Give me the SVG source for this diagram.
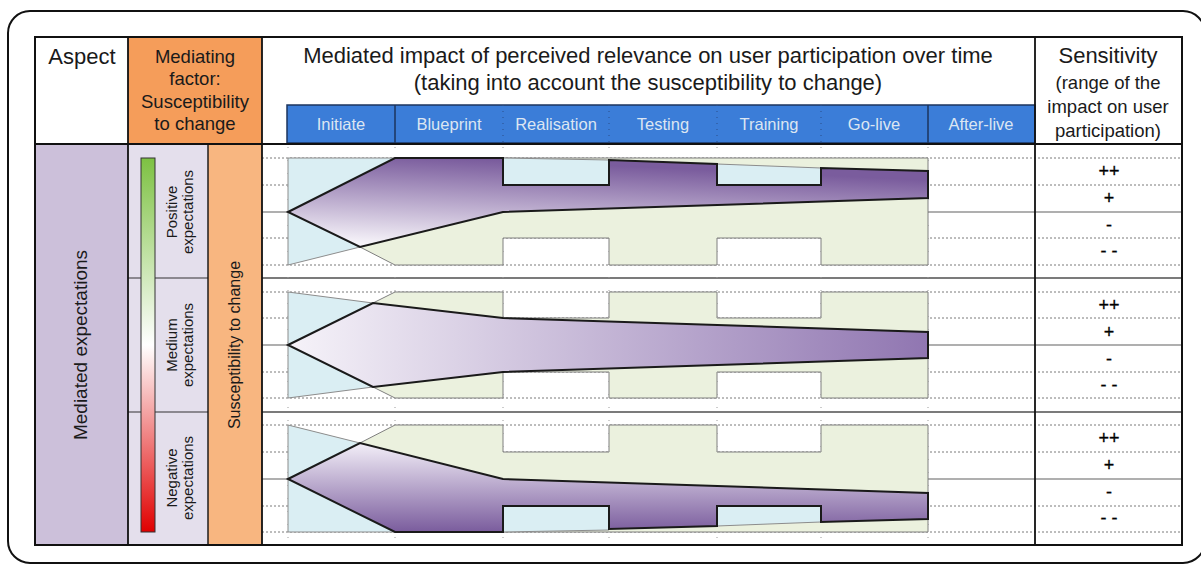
<svg xmlns="http://www.w3.org/2000/svg" width="1201" height="566" viewBox="0 0 1201 566">
<style>
text{font-family:"Liberation Sans",Arial,sans-serif;fill:#1a1a1a}
.hd{font-size:22px;text-anchor:middle}
.mf{font-size:18.5px;text-anchor:middle}
.ph{font-size:16.5px;text-anchor:middle;fill:#dce6f2}
.sv{font-size:18px;text-anchor:middle;fill:#000;stroke:#000;stroke-width:0.3}
.rl{font-size:15px;text-anchor:middle}
.dot{stroke:#7a7a7a;stroke-width:1;stroke-dasharray:2 2;fill:none}
.ctr{stroke:#606060;stroke-width:1.2;fill:none}
.sep{stroke:#505050;stroke-width:1.6;fill:none}
.vdot{stroke:#9a9a9a;stroke-width:1;stroke-dasharray:1 12;fill:none}
.lb{fill:#daeef3;stroke:#8c8c8c;stroke-width:1}
.gr{fill:#ebf1de;stroke:#7f7f7f;stroke-width:1}
.pu{stroke:#1a1a1a;stroke-width:2;stroke-linejoin:miter}
.bd{stroke:#111;fill:none}
</style>
<defs>
<linearGradient id="g1" x1="0.1" y1="0.95" x2="0.4" y2="0.05">
<stop offset="0" stop-color="#f6f3f9"/><stop offset="1" stop-color="#7a5c9d"/>
</linearGradient>
<linearGradient id="g2" x1="0" y1="0" x2="1" y2="0">
<stop offset="0" stop-color="#f6f3f9"/><stop offset="1" stop-color="#9076b1"/>
</linearGradient>
<linearGradient id="g3" x1="0" y1="0" x2="0" y2="1">
<stop offset="0" stop-color="#f3eff8"/><stop offset="1" stop-color="#7a5c9d"/>
</linearGradient>
<linearGradient id="bar" x1="0" y1="0" x2="0" y2="1">
<stop offset="0" stop-color="#7dc142"/><stop offset="0.5" stop-color="#ffffff"/><stop offset="1" stop-color="#e00000"/>
</linearGradient>
</defs>

<rect x="8" y="11" width="1197" height="552" rx="22" fill="#fff" stroke="#111" stroke-width="2"/>

<g id="left-columns">
<rect x="35" y="144" width="93" height="401" fill="#ccc0da"/>
<rect x="128" y="144" width="80" height="401" fill="#e4dfec"/>
<rect x="208" y="144" width="54" height="401" fill="#f8b680"/>
<rect x="128" y="37" width="134" height="107" fill="#f59d5a"/>
<line x1="128" y1="278" x2="208" y2="278" stroke="#333" stroke-width="1.2"/>
<line x1="128" y1="412" x2="208" y2="412" stroke="#333" stroke-width="1.2"/>
<rect x="141" y="158" width="14" height="374" fill="url(#bar)" stroke="#333" stroke-width="1"/>
</g>

<g id="header">
<text class="hd" x="82" y="64">Aspect</text>
<text class="mf" x="195" y="63">Mediating</text>
<text class="mf" x="195" y="85">factor:</text>
<text class="mf" x="195" y="108">Susceptibility</text>
<text class="mf" x="195" y="130">to change</text>
<text class="hd" x="648" y="63">Mediated impact of perceived relevance on user participation over time</text>
<text class="hd" x="648" y="90">(taking into account the susceptibility to change)</text>
<text class="hd" x="1108" y="63">Sensitivity</text>
<text class="mf" x="1108" y="89">(range of the</text>
<text class="mf" x="1108" y="113">impact on user</text>
<text class="mf" x="1108" y="137">participation)</text>
</g>

<g id="phases">
<rect x="287" y="105" width="748" height="38" fill="#3b7dd8" stroke="#1c355e" stroke-width="1.5"/>
<line x1="395" y1="105" x2="395" y2="143" stroke="#1c355e" stroke-width="1.5"/>
<line x1="928" y1="105" x2="928" y2="143" stroke="#1c355e" stroke-width="1.5"/>
<g stroke="#2a4f8a" stroke-width="1" stroke-dasharray="1 5">
<line x1="503" y1="105" x2="503" y2="143"/><line x1="609" y1="105" x2="609" y2="143"/>
<line x1="717" y1="105" x2="717" y2="143"/><line x1="821" y1="105" x2="821" y2="143"/>
</g>
<text class="ph" x="341" y="130">Initiate</text>
<text class="ph" x="449" y="130">Blueprint</text>
<text class="ph" x="556" y="130">Realisation</text>
<text class="ph" x="663" y="130">Testing</text>
<text class="ph" x="769" y="130">Training</text>
<text class="ph" x="874" y="130">Go-live</text>
<text class="ph" x="981" y="130">After-live</text>
</g>

<g id="grid">
<path class="dot" d="M262 158H1182M262 185H1182M262 238H1182M262 265H1182M262 292H1182M262 318H1182M262 372H1182M262 398H1182M262 425H1182M262 452H1182M262 506H1182M262 532H1182"/>
<path class="ctr" d="M262 212H1182M262 345H1182M262 479H1182"/>
<path class="sep" d="M262 278H1182M262 412H1182"/>
<path class="vdot" d="M288 147V545M395 147V545M503 147V545M609 147V545M717 147V545M821 147V545M928 147V545"/>
</g>

<g id="band-positive">
<polygon class="gr" points="360,247 395,212 395,158 928,158 928,265 821,265 821,238 717,238 717,265 609,265 609,238 503,238 503,265 395,265"/>
<polygon class="lb" points="288,158 395,158 395,212 360,247 288,265"/>
<polygon class="lb" points="503,158 609,160 609,185 503,185"/>
<polygon class="lb" points="717,164 821,168 821,185 717,185"/>
<polygon class="pu" fill="url(#g1)" points="288,212 395,158 503,158 503,185 609,185 609,160 717,164 717,185 821,185 821,168 928,171 928,198 503,212 360,247"/>
</g>

<g id="band-medium">
<polygon class="gr" points="373,303 395,292 503,292 503,318 609,318 609,292 717,292 717,318 821,318 821,292 928,292 928,398 821,398 821,372 717,372 717,398 609,398 609,372 503,372 503,398 395,398 373,387"/>
<polygon class="lb" points="288,292 373,303 373,387 288,398"/>
<polygon class="pu" fill="url(#g2)" points="288,345 373,303 503,318 928,332 928,358 503,372 373,387"/>
</g>

<g id="band-negative">
<polygon class="gr" points="360,443 395,479 395,532 928,532 928,425 821,425 821,452 717,452 717,425 609,425 609,452 503,452 503,425 395,425"/>
<polygon class="lb" points="288,532 395,532 395,479 360,443 288,425"/>
<polygon class="lb" points="503,506 609,506 609,530 503,532"/>
<polygon class="lb" points="717,506 821,506 821,522 717,526"/>
<polygon class="pu" fill="url(#g3)" points="288,479 360,443 503,479 928,493 928,519 821,522 821,506 717,506 717,526 609,529 609,506 503,506 503,532 395,532"/>
</g>

<g id="row-labels">
<text font-size="19" text-anchor="middle" transform="translate(87,345) rotate(-90)">Mediated expectations</text>
<text class="rl" transform="translate(177,212) rotate(-90)">Positive<tspan x="0" y="16">expectations</tspan></text>
<text class="rl" transform="translate(177,345) rotate(-90)">Medium<tspan x="0" y="16">expectations</tspan></text>
<text class="rl" transform="translate(177,478) rotate(-90)">Negative<tspan x="0" y="16">expectations</tspan></text>
<text font-size="16" text-anchor="middle" transform="translate(240,345) rotate(-90)">Susceptibility to change</text>
</g>

<g id="sensitivity">
<text class="sv" x="1109" y="177">++</text>
<text class="sv" x="1109" y="204">+</text>
<text class="sv" x="1109" y="231">-</text>
<text class="sv" x="1109" y="257">- -</text>
<text class="sv" x="1109" y="311">++</text>
<text class="sv" x="1109" y="338">+</text>
<text class="sv" x="1109" y="365">-</text>
<text class="sv" x="1109" y="391">- -</text>
<text class="sv" x="1109" y="444">++</text>
<text class="sv" x="1109" y="471">+</text>
<text class="sv" x="1109" y="498">-</text>
<text class="sv" x="1109" y="524">- -</text>
</g>

<g id="table-borders">
<rect class="bd" x="35" y="37" width="1147" height="508" stroke-width="2"/>
<path class="bd" stroke-width="1.8" d="M35 144H1182M128 37V545M262 37V545M1035 37V545"/>
<path class="bd" stroke-width="1.4" d="M208 144V545"/>
</g>
</svg>
